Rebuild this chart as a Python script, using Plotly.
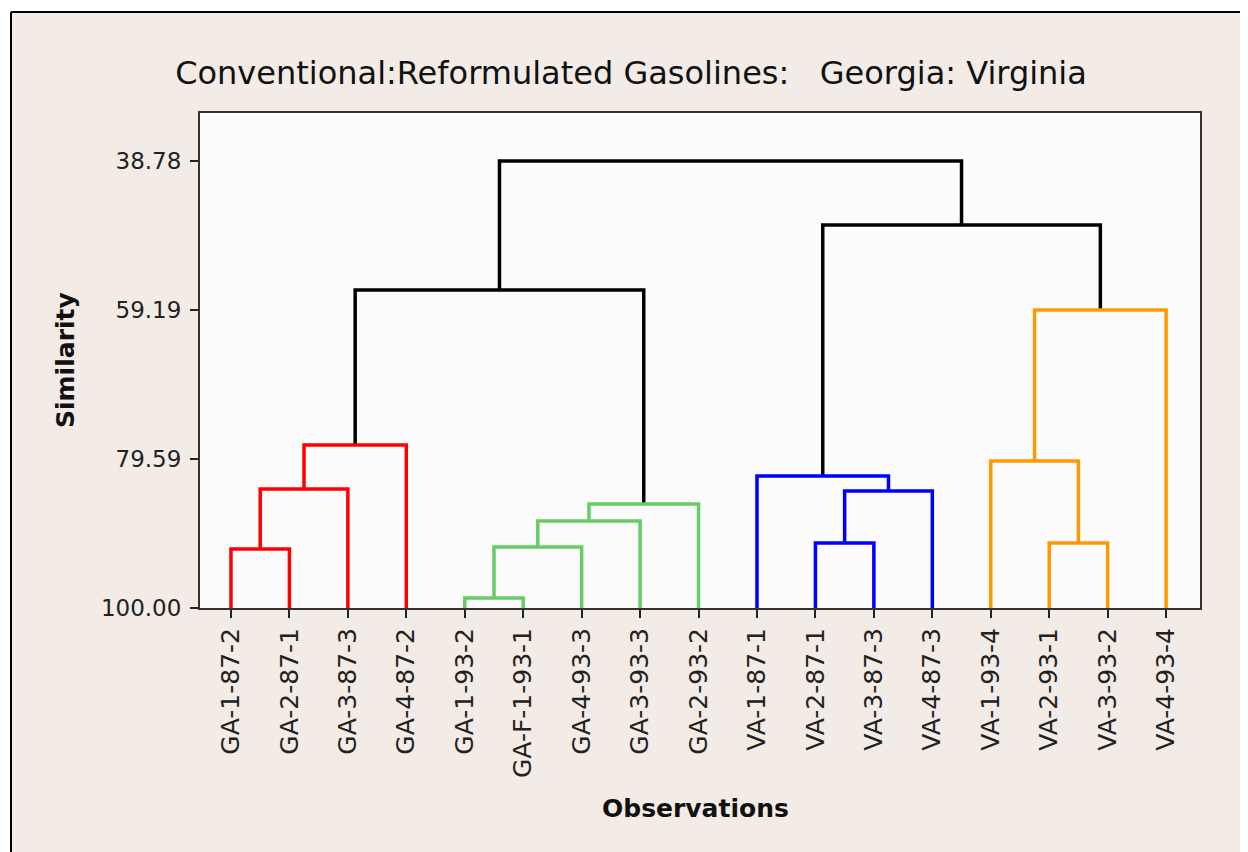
import plotly.graph_objects as go

# ---------------- data ----------------
leaf_labels = ["GA-1-87-2", "GA-2-87-1", "GA-3-87-3", "GA-4-87-2", "GA-1-93-2",
               "GA-F-1-93-1", "GA-4-93-3", "GA-3-93-3", "GA-2-93-2", "VA-1-87-1",
               "VA-2-87-1", "VA-3-87-3", "VA-4-87-3", "VA-1-93-4", "VA-2-93-1",
               "VA-3-93-2", "VA-4-93-4"]

# linkage: (left id, right id, similarity level, cluster group); new ids start at 17
merge_left = [0, 17, 18, 4, 20, 21, 22, 10, 24, 9, 14, 13, 28, 19, 26, 30]
merge_right = [1, 2, 3, 5, 6, 7, 8, 11, 12, 25, 15, 27, 16, 23, 29, 31]
merge_similarity = [91.93, 83.71, 77.69, 98.64, 91.66, 88.10, 85.77,
                    91.11, 83.98, 81.93, 91.11, 79.88, 59.19,
                    56.45, 47.55, 38.78]
merge_group = ["red", "red", "red", "green", "green", "green", "green",
               "blue", "blue", "blue", "orange", "orange", "orange",
               "black", "black", "black"]

y_ticks = [38.78, 59.19, 79.59, 100.00]
y_tick_labels = ["38.78", "59.19", "79.59", "100.00"]

title_text = "Conventional:Reformulated Gasolines:   Georgia: Virginia"
x_title = "Observations"
y_title = "Similarity"

group_colors = {"red": "#FF0000", "green": "#66CC66", "blue": "#0000FF",
                "orange": "#FF9900", "black": "#000000"}

# ---------------- build dendrogram segments ----------------
n = len(leaf_labels)
pos = {i: float(i) for i in range(n)}
lvl = {i: 100.0 for i in range(n)}
segs = {g: ([], []) for g in group_colors}
for k, (a, b, s, g) in enumerate(zip(merge_left, merge_right, merge_similarity, merge_group)):
    nid = n + k
    xs, ys = segs[g]
    xs += [pos[a], pos[a], pos[b], pos[b], None]
    ys += [lvl[a], s, s, lvl[b], None]
    pos[nid] = (pos[a] + pos[b]) / 2
    lvl[nid] = s

fig = go.Figure()
for g in ["black", "red", "green", "blue", "orange"]:
    xs, ys = segs[g]
    fig.add_trace(go.Scatter(x=xs, y=ys, mode="lines",
                             line=dict(color=group_colors[g], width=3.5),
                             hoverinfo="skip", showlegend=False))

# page has an 8px body margin: figure origin sits at screen (8, 8)
OFF = 8
W, H = 1240, 844
L, R, T, B = 192, 48, 105, 244
pw, ph = W - L - R, H - T - B


def px(sx):
    return (sx - OFF - L) / pw


def py(sy):
    return (H - B - (sy - OFF)) / ph


beige = "#F3EBE5"
shapes = [
    dict(type="line", xref="paper", yref="paper", x0=px(11), x1=px(W + 20),
         y0=py(12), y1=py(12), line=dict(color="black", width=2), layer="above"),
    dict(type="line", xref="paper", yref="paper", x0=px(11), x1=px(11),
         y0=py(12), y1=py(H + 20), line=dict(color="black", width=2), layer="above"),
    dict(type="rect", xref="paper", yref="paper", x0=px(0), x1=px(W + 20),
         y0=py(11), y1=py(0), fillcolor="white", line=dict(width=0), layer="above"),
    dict(type="rect", xref="paper", yref="paper", x0=px(0), x1=px(10),
         y0=py(H + 20), y1=py(0), fillcolor="white", line=dict(width=0), layer="above"),
]

font_fam = "DejaVu Sans"
fig.update_layout(
    width=W, height=H,
    margin=dict(l=L, r=R, t=T, b=B, autoexpand=False),
    paper_bgcolor=beige, plot_bgcolor="#FCFCFC",
    title=dict(text=title_text, x=(631 - OFF) / W, xanchor="center",
               y=1 - (73 - OFF) / H, yanchor="middle", yref="container",
               font=dict(family=font_fam, size=32, color="#111111")),
    shapes=shapes,
    annotations=[
        dict(text=x_title, xref="paper", yref="paper", x=px(695), y=py(808),
             showarrow=False, xanchor="center", yanchor="middle",
             font=dict(family=font_fam, size=25, color="#111111", weight="bold")),
        dict(text=y_title, xref="paper", yref="paper", x=px(65), y=py(360),
             showarrow=False, xanchor="center", yanchor="middle", textangle=-90,
             font=dict(family=font_fam, size=25, color="#111111", weight="bold")),
    ],
    showlegend=False,
)
fig.update_xaxes(range=[-0.53, 16.58], tickmode="array",
                 tickvals=list(range(n)), ticktext=leaf_labels,
                 tickangle=-90, ticks="outside", ticklen=8, tickwidth=2,
                 tickcolor="#222222", showgrid=False, zeroline=False,
                 showline=True, linecolor="#333333", linewidth=2, mirror=True,
                 ticklabelstandoff=0,
                 tickfont=dict(family=font_fam, size=25, color="#222222"))
fig.update_yaxes(range=[100, 32.21], tickmode="array", tickvals=y_ticks,
                 ticktext=y_tick_labels, ticks="outside", ticklen=8, tickwidth=2,
                 tickcolor="#222222", showgrid=False, zeroline=False,
                 showline=True, linecolor="#333333", linewidth=2, mirror=True,
                 ticklabelstandoff=4,
                 tickfont=dict(family=font_fam, size=23, color="#222222"))

fig.write_html("out.html")
